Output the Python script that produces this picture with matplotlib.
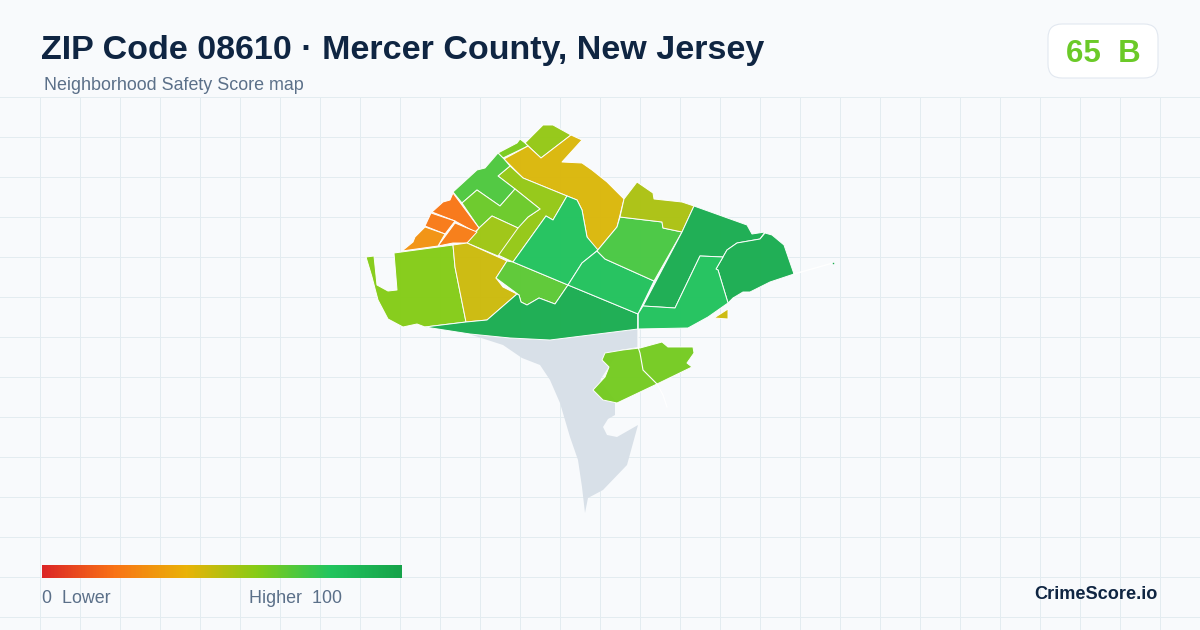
from __future__ import annotations

import matplotlib as mpl

mpl.use("Agg")
import matplotlib.pyplot as plt
import numpy as np
from matplotlib.collections import PolyCollection
from matplotlib.colors import LinearSegmentedColormap, Normalize
from matplotlib.patches import FancyBboxPatch, Polygon

plt.rcParams["font.family"] = ["Liberation Sans", "DejaVu Sans"]

BG = "#f8fafc"
GRID = "#e3ecf0"
INK = "#0f2542"
MUTED = "#5b7089"
NO_DATA = "#d8e0e8"

STOP_POS = [0, 20, 40, 60, 80, 100]
STOP_COL = ["#dc2626", "#f97316", "#eab308", "#84cc16", "#22c55e", "#16a34a"]

ZIP_SCORE = 65
ZIP_GRADE = "B"

# tract outlines in pixels
NO_DATA_SHAPE = [
    (472, 335), (503, 345), (522, 358), (540, 365), (550, 380), (560, 403), (570, 437),
    (578, 460), (582, 487), (585, 513), (588, 498), (603, 490), (627, 465), (638, 425),
    (617, 437), (607, 435), (603, 427), (608, 419), (615, 415), (615, 400), (600, 380),
    (620, 350), (638, 347), (638, 329), (550, 340), (503, 333),
]

TRACT_SHAPES = [
    [(525, 143), (543, 125), (553, 125), (571, 135), (541, 158)],
    [(498, 153), (517, 143), (520, 139), (525, 143), (528, 146), (503, 158)],
    [(504, 159), (528, 146), (541, 158), (571, 135), (582, 140), (562, 162), (582, 163),
     (592, 170), (607, 182), (624, 199), (617, 227), (597, 251), (587, 237), (582, 210),
     (577, 200), (567, 196), (523, 178)],
    [(498, 176), (510, 166), (523, 178), (567, 196), (553, 220), (546, 216), (513, 262),
     (498, 255), (517, 228), (528, 217), (540, 209), (515, 189)],
    [(498, 153), (504, 159), (510, 166), (498, 176), (515, 189), (500, 206), (477, 190),
     (462, 203), (453, 192), (477, 170), (485, 168)],
    [(462, 203), (477, 190), (500, 206), (515, 189), (540, 209), (528, 217), (518, 228),
     (492, 216), (479, 228)],
    [(492, 216), (518, 228), (498, 256), (467, 243), (479, 228)],
    [(453, 193), (479, 228), (475, 232), (455, 221), (432, 212), (443, 202), (450, 200)],
    [(431, 213), (455, 221), (445, 234), (425, 226)],
    [(455, 223), (477, 232), (467, 243), (453, 243), (438, 246)],
    [(425, 227), (445, 234), (438, 246), (402, 251), (413, 242), (415, 237)],
    [(394, 253), (453, 245), (455, 267), (466, 322), (425, 327), (417, 324), (403, 327),
     (388, 319), (378, 300), (372, 277), (366, 257), (374, 256), (377, 285), (388, 291),
     (397, 290)],
    [(453, 245), (467, 243), (507, 261), (496, 278), (503, 287), (517, 294), (487, 320),
     (466, 322), (455, 267)],
    [(507, 261), (513, 262), (568, 285), (555, 304), (539, 298), (527, 305), (521, 302),
     (519, 295), (496, 278)],
    [(425, 327), (466, 322), (487, 320), (517, 294), (519, 295), (521, 302), (527, 305),
     (539, 298), (555, 304), (568, 285), (638, 314), (638, 329), (550, 340), (510, 338),
     (470, 334)],
    [(567, 196), (577, 200), (582, 210), (587, 237), (598, 250), (582, 263), (568, 285),
     (513, 262), (546, 216), (553, 220)],
    [(597, 251), (605, 259), (654, 281), (638, 314), (568, 285), (582, 263)],
    [(620, 217), (662, 222), (663, 228), (682, 232), (654, 281), (605, 259), (597, 251),
     (617, 227)],
    [(637, 182), (653, 193), (654, 199), (682, 202), (694, 206), (682, 232), (663, 228),
     (662, 222), (620, 217), (624, 199)],
    [(694, 206), (747, 225), (752, 234), (765, 232), (760, 239), (737, 243), (727, 250),
     (723, 257), (700, 256), (675, 308), (643, 306), (682, 232)],
    [(765, 233), (772, 235), (784, 245), (794, 274), (770, 282), (750, 292), (743, 292),
     (733, 298), (728, 303), (718, 270), (716, 269), (723, 257), (727, 250), (737, 243),
     (760, 239)],
    [(638, 314), (643, 306), (675, 308), (700, 256), (723, 257), (716, 269), (718, 270),
     (728, 303), (708, 317), (688, 328), (638, 329)],
    [(714, 318), (728, 309), (728, 319)],
    [(593, 390), (605, 377), (609, 367), (602, 360), (605, 353), (623, 350), (640, 348),
     (662, 342), (668, 347), (693, 347), (694, 353), (687, 363), (692, 367), (657, 384),
     (617, 403), (603, 400)],
]
TRACT_SCORES = [57, 62, 43, 57, 71, 65, 55, 21, 22, 23, 30, 60, 46, 68, 94, 81, 82, 72, 52, 94, 94, 81, 46, 63]

# thin white boundaries that run past the filled tracts
STREET_X = [638, 638, 640, 643, 657, 663, 667]
STREET_Y = [314, 347, 353, 370, 384, 395, 407]
SPUR_X = [794, 833]
SPUR_Y = [274, 263]


def main():
    cmap = LinearSegmentedColormap.from_list(
        "score", [(p / 100, c) for p, c in zip(STOP_POS, STOP_COL)]
    )
    norm = Normalize(0, 100)

    fig = plt.figure(figsize=(12, 6.3), dpi=100, facecolor=BG)
    ax = fig.add_axes([0, 0, 1, 1])
    ax.set_xlim(0, 1200)
    ax.set_ylim(630, 0)
    ax.set_axis_off()

    for x in np.arange(40, 1200, 40):
        ax.plot([x, x], [97, 630], color=GRID, lw=0.72, zorder=1)
    for y in np.arange(97, 630, 40):
        ax.plot([0, 1200], [y, y], color=GRID, lw=0.72, zorder=1)

    ax.add_patch(Polygon(NO_DATA_SHAPE, closed=True, facecolor=NO_DATA, edgecolor="none", zorder=2))
    tracts = PolyCollection(
        TRACT_SHAPES, array=np.array(TRACT_SCORES), cmap=cmap, norm=norm,
        edgecolors="white", linewidths=0.7, alpha=0.97, zorder=3,
    )
    ax.add_collection(tracts)
    ax.plot(STREET_X, STREET_Y, color="white", lw=0.8, zorder=4)
    ax.plot(SPUR_X, SPUR_Y, color="white", lw=1.0, zorder=4)
    ax.plot(SPUR_X[-1], SPUR_Y[-1], "s", ms=1, mew=0, color=cmap(norm(94)), zorder=4)

    ax.text(41, 47, "ZIP Code 08610 · Mercer County, New Jersey", fontsize=24.5,
            fontweight="bold", color=INK, va="center_baseline", ha="left")
    ax.text(44, 84, "Neighborhood Safety Score map", fontsize=12.9, color=MUTED,
            va="center_baseline", ha="left")

    ax.add_patch(FancyBboxPatch((1062, 38), 82, 26, boxstyle="round,pad=14,rounding_size=14",
                                facecolor="white", edgecolor="#e2e8f0", lw=0.8, zorder=5,
                                mutation_aspect=1))
    ax.text(1103, 51, f"{ZIP_SCORE}  {ZIP_GRADE}", fontsize=22.5, fontweight="bold",
            color=cmap(norm(ZIP_SCORE)), va="center_baseline", ha="center", zorder=6)

    ax.imshow(np.linspace(0, 100, 360).reshape(1, -1), cmap=cmap, norm=norm, aspect="auto",
              extent=(42, 402, 578, 565), zorder=5)
    ax.set_xlim(0, 1200)
    ax.set_ylim(630, 0)
    ax.text(42, 596.5, "0  Lower", fontsize=12.9, color=MUTED, va="center_baseline", ha="left")
    ax.text(342, 596.5, "Higher  100", fontsize=12.9, color=MUTED, va="center_baseline", ha="right")
    ax.text(1158, 592.5, "CrimeScore.io", fontsize=13.1, fontweight="bold", color=INK,
            va="center_baseline", ha="right")

    fig.savefig("out.png", dpi=100, facecolor=BG)


if __name__ == "__main__":
    main()
